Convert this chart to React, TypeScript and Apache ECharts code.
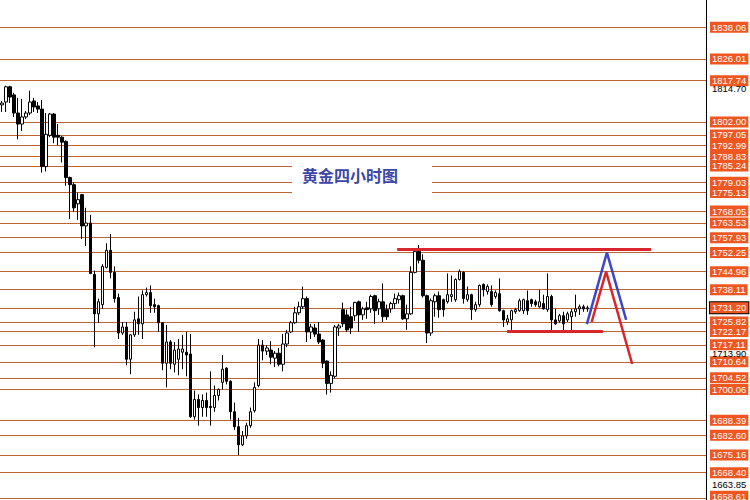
import React, { useEffect, useRef } from "react";
import * as echarts from "echarts";

// Gold, 4-hour bars: [open, close, low, high]
const candles: number[][] = [
  [1808.5, 1809.2, 1805.8, 1810.0],
  [1809.6, 1815.4, 1805.8, 1815.8],
  [1815.4, 1811.5, 1809.2, 1815.8],
  [1812.3, 1805.4, 1803.9, 1813.1],
  [1805.4, 1801.2, 1795.4, 1811.2],
  [1801.2, 1803.9, 1798.5, 1810.8],
  [1803.9, 1805.4, 1803.1, 1806.2],
  [1805.4, 1809.6, 1804.6, 1813.9],
  [1810.0, 1807.7, 1805.8, 1811.2],
  [1808.1, 1806.9, 1805.4, 1809.6],
  [1806.9, 1785.0, 1782.7, 1810.4],
  [1785.0, 1797.3, 1783.1, 1805.4],
  [1796.9, 1805.0, 1796.2, 1805.4],
  [1805.0, 1796.2, 1793.9, 1805.4],
  [1796.9, 1796.2, 1793.1, 1801.2],
  [1796.2, 1794.3, 1786.6, 1796.6],
  [1794.6, 1780.8, 1777.7, 1795.0],
  [1780.8, 1778.1, 1765.0, 1781.2],
  [1778.1, 1769.3, 1767.7, 1778.9],
  [1770.8, 1772.4, 1764.7, 1775.0],
  [1774.3, 1762.4, 1757.4, 1774.6],
  [1762.4, 1763.5, 1754.7, 1769.3],
  [1763.5, 1744.3, 1744.0, 1766.6],
  [1743.9, 1728.9, 1716.2, 1745.4],
  [1728.9, 1733.5, 1725.5, 1734.7],
  [1732.4, 1747.0, 1730.8, 1747.8],
  [1746.6, 1753.1, 1746.2, 1755.8],
  [1753.1, 1744.7, 1742.4, 1759.3],
  [1744.7, 1734.7, 1733.2, 1747.0],
  [1735.1, 1721.6, 1719.3, 1736.6],
  [1721.6, 1723.9, 1720.9, 1725.8],
  [1723.9, 1711.6, 1709.3, 1725.8],
  [1711.6, 1720.9, 1705.9, 1721.2],
  [1720.9, 1726.6, 1720.1, 1729.7],
  [1727.0, 1725.1, 1720.9, 1735.5],
  [1725.1, 1736.2, 1719.3, 1737.8],
  [1736.2, 1737.0, 1735.5, 1738.9],
  [1737.0, 1732.0, 1729.3, 1739.7],
  [1732.4, 1731.6, 1729.3, 1734.7],
  [1732.0, 1725.5, 1722.0, 1732.4],
  [1725.5, 1710.1, 1707.4, 1725.8],
  [1710.1, 1718.2, 1700.9, 1724.7],
  [1718.2, 1710.1, 1707.8, 1718.9],
  [1709.7, 1715.1, 1706.6, 1718.2],
  [1711.6, 1715.5, 1705.5, 1719.3],
  [1714.3, 1715.5, 1707.8, 1720.9],
  [1714.3, 1713.2, 1705.1, 1722.0],
  [1713.6, 1689.7, 1689.3, 1721.2],
  [1689.7, 1696.3, 1688.6, 1699.7],
  [1696.3, 1693.2, 1686.3, 1698.2],
  [1693.2, 1695.9, 1689.7, 1698.2],
  [1695.9, 1693.2, 1689.7, 1698.9],
  [1693.6, 1693.2, 1686.3, 1707.0],
  [1693.2, 1697.8, 1691.6, 1701.6],
  [1697.8, 1700.1, 1695.9, 1700.5],
  [1702.8, 1707.8, 1700.1, 1713.2],
  [1708.2, 1703.2, 1702.0, 1708.6],
  [1703.2, 1691.6, 1688.6, 1703.6],
  [1691.6, 1685.9, 1684.7, 1695.1],
  [1685.9, 1679.0, 1675.1, 1689.3],
  [1679.0, 1682.4, 1678.6, 1684.3],
  [1682.4, 1686.3, 1681.3, 1687.4],
  [1686.3, 1691.6, 1685.5, 1693.2],
  [1692.0, 1700.9, 1691.3, 1702.8],
  [1701.6, 1717.0, 1700.9, 1719.3],
  [1717.0, 1714.7, 1711.2, 1718.9],
  [1714.7, 1715.9, 1713.2, 1717.0],
  [1715.1, 1712.4, 1709.7, 1718.5],
  [1712.0, 1713.9, 1708.6, 1714.7],
  [1713.9, 1709.7, 1708.9, 1715.9],
  [1709.7, 1717.4, 1707.0, 1721.2],
  [1717.4, 1721.6, 1716.2, 1722.8],
  [1722.0, 1725.5, 1721.6, 1726.2],
  [1725.5, 1729.3, 1725.1, 1731.6],
  [1729.3, 1731.6, 1728.5, 1733.5],
  [1731.6, 1734.7, 1730.8, 1739.3],
  [1734.7, 1722.0, 1718.2, 1735.5],
  [1722.0, 1723.9, 1719.3, 1725.1],
  [1723.5, 1721.2, 1720.1, 1725.1],
  [1721.2, 1718.2, 1717.4, 1725.8],
  [1718.9, 1710.1, 1708.2, 1719.3],
  [1710.9, 1702.4, 1698.2, 1711.2],
  [1702.4, 1705.5, 1698.9, 1707.0],
  [1705.1, 1723.9, 1704.3, 1724.7],
  [1723.5, 1724.3, 1720.5, 1725.1],
  [1730.5, 1725.1, 1723.9, 1733.2],
  [1728.5, 1722.8, 1722.0, 1730.5],
  [1727.8, 1723.5, 1721.2, 1731.6],
  [1728.2, 1733.2, 1726.2, 1733.5],
  [1733.5, 1728.5, 1722.0, 1733.9],
  [1728.5, 1730.8, 1726.6, 1731.6],
  [1731.2, 1730.5, 1727.0, 1733.5],
  [1730.8, 1735.5, 1729.3, 1736.2],
  [1735.8, 1730.1, 1725.1, 1736.2],
  [1730.8, 1733.5, 1728.5, 1734.7],
  [1733.5, 1727.8, 1725.8, 1740.5],
  [1730.5, 1727.8, 1726.6, 1732.4],
  [1730.8, 1732.8, 1729.3, 1733.5],
  [1732.8, 1734.7, 1730.8, 1736.6],
  [1734.3, 1735.8, 1732.8, 1737.0],
  [1735.8, 1727.0, 1726.6, 1736.2],
  [1727.0, 1728.9, 1722.8, 1732.4],
  [1728.9, 1744.7, 1728.5, 1747.0],
  [1744.7, 1752.7, 1744.3, 1753.5],
  [1752.7, 1749.3, 1748.1, 1755.1],
  [1749.3, 1735.8, 1735.1, 1751.6],
  [1735.8, 1721.6, 1717.8, 1736.2],
  [1721.6, 1733.9, 1720.5, 1734.7],
  [1733.5, 1735.8, 1727.8, 1736.6],
  [1735.8, 1730.5, 1727.4, 1737.4],
  [1734.3, 1730.5, 1727.8, 1734.7],
  [1733.5, 1736.2, 1732.8, 1744.3],
  [1735.5, 1736.2, 1733.5, 1743.5],
  [1734.3, 1742.0, 1733.5, 1742.4],
  [1742.0, 1745.1, 1741.6, 1745.8],
  [1744.7, 1734.7, 1732.8, 1745.1],
  [1734.3, 1736.2, 1733.5, 1739.3],
  [1736.2, 1730.5, 1726.6, 1736.6],
  [1730.5, 1732.4, 1729.7, 1733.5],
  [1732.4, 1739.7, 1731.6, 1740.1],
  [1740.1, 1738.1, 1735.5, 1740.5],
  [1737.4, 1739.3, 1736.2, 1740.1],
  [1737.4, 1732.4, 1731.6, 1739.7],
  [1735.5, 1737.0, 1734.7, 1737.8],
  [1736.6, 1730.1, 1729.7, 1742.4],
  [1730.1, 1726.6, 1723.9, 1730.5],
  [1725.8, 1727.0, 1724.7, 1728.5],
  [1726.6, 1730.1, 1722.8, 1730.5],
  [1729.7, 1730.5, 1728.9, 1731.2],
  [1730.1, 1733.9, 1729.7, 1734.7],
  [1730.1, 1734.3, 1728.9, 1734.7],
  [1733.9, 1730.1, 1728.5, 1737.8],
  [1734.3, 1732.8, 1731.6, 1734.7],
  [1733.5, 1732.4, 1731.6, 1734.3],
  [1731.6, 1733.5, 1731.2, 1738.1],
  [1732.8, 1730.8, 1730.5, 1736.2],
  [1730.5, 1735.5, 1729.7, 1744.3],
  [1735.5, 1726.6, 1722.0, 1736.2],
  [1726.6, 1725.1, 1724.7, 1730.8],
  [1726.2, 1728.2, 1725.5, 1728.9],
  [1728.2, 1725.1, 1722.0, 1729.7],
  [1726.6, 1728.9, 1725.8, 1729.7],
  [1727.8, 1729.7, 1722.0, 1730.8],
  [1729.7, 1730.8, 1727.8, 1736.2],
  [1730.8, 1731.6, 1728.5, 1732.4],
  [1731.6, 1730.8, 1729.7, 1732.4],
  [1730.8, 1731.2, 1729.7, 1732.0],
];

// Horizontal price levels (orange tags on the price scale)
const levelValues = [
  1838.06, 1826.01, 1817.74, 1802.0, 1797.05, 1792.99, 1788.83, 1785.24,
  1779.03, 1775.13, 1768.05, 1763.53, 1757.93, 1752.25, 1744.96, 1738.11,
  1731.2, 1725.82, 1722.17, 1717.11, 1710.64, 1704.52, 1700.06, 1688.39,
  1682.6, 1675.16, 1668.4, 1658.61,
];
const lastPrice = 1731.2;
// Plain price-scale marks
const scaleMarks = [1814.7, 1713.9, 1663.85];

// Drawn studies, [bar position, price]
const resistance = [[98.5, 1753.4], [161.8, 1753.4]];
const support = [[125.9, 1722.17], [149.8, 1722.17]];
const bluePath = [[145.8, 1725.0], [150.8, 1752.25], [155.6, 1726.6]];
const redPath = [[147.0, 1725.8], [150.6, 1744.96], [157.1, 1709.8]];

const slotCount = 176;
const priceMin = 1657.98;
const priceMax = 1848.46;
const title = "黄金四小时图";

const LEVEL_LINE = "#bf6430";
const TAG_FILL = "#f0561f";

export default function App() {
  const ref = useRef<HTMLDivElement>(null);

  useEffect(() => {
    if (!ref.current) return;
    const chart = echarts.init(ref.current, undefined, { renderer: "svg" });
    const slots = Array.from({ length: slotCount }, (_, i) => String(i + 1));
    const fmt = (p: any) => Number(p.value).toFixed(2);
    const lowest = Math.min(...levelValues);

    const levelItems = levelValues.map((v) => ({
      yAxis: v,
      lineStyle: { color: LEVEL_LINE, width: 1.2, type: "solid" as const },
      label: {
        show: true,
        position: "end" as const,
        distance: 4,
        offset: v === lowest ? [0, -2] : [0, 0],
        formatter: fmt,
        color: "#ffffff",
        backgroundColor: TAG_FILL,
        borderColor: v === lastPrice ? "#000000" : TAG_FILL,
        borderWidth: v === lastPrice ? 1 : 0,
        padding: [1, 2, 0, 2],
        fontFamily: "Liberation Sans",
        fontSize: 9.5,
        lineHeight: 10,
      },
    }));
    const markItems = scaleMarks.map((v) => ({
      yAxis: v,
      lineStyle: { color: "rgba(0,0,0,0)", width: 0 },
      label: {
        show: true,
        position: "end" as const,
        distance: 6,
        formatter: fmt,
        color: "#000000",
        fontFamily: "Liberation Sans",
        fontSize: 9.5,
        lineHeight: 10,
      },
    }));

    const study = (data: number[][], color: string, width: number) => ({
      type: "line",
      xAxisIndex: 1,
      data,
      symbol: "none",
      silent: true,
      z: 5,
      lineStyle: { color, width },
    });

    chart.setOption({
      animation: false,
      backgroundColor: "#ffffff",
      grid: { left: 0, right: 44, top: 0, bottom: 0 },
      xAxis: [
        { type: "category", data: slots, boundaryGap: true, show: false },
        { type: "value", min: -0.5, max: slotCount - 0.5, show: false },
      ],
      yAxis: {
        type: "value",
        position: "right",
        min: priceMin,
        max: priceMax,
        axisLine: {
          show: true,
          onZero: false,
          lineStyle: { color: "#000000", width: 1 },
        },
        axisTick: { show: false },
        axisLabel: { show: false },
        splitLine: { show: false },
      },
      series: [
        {
          type: "candlestick",
          data: candles,
          barWidth: 3,
          z: 3,
          itemStyle: {
            color: "#ffffff",
            color0: "#000000",
            borderColor: "#000000",
            borderColor0: "#000000",
            borderWidth: 1,
          },
          markLine: {
            silent: true,
            symbol: ["none", "none"],
            z: 1,
            data: [...levelItems, ...markItems],
          },
        },
        study(resistance, "#d8262c", 3),
        study(support, "#d8262c", 3),
        study(bluePath, "#3b47c4", 2.5),
        study(redPath, "#d8262c", 2.5),
      ],
      graphic: [
        {
          type: "rect",
          z: 100,
          shape: { x: 292, y: 164, width: 140, height: 32 },
          style: { fill: "#ffffff" },
        },
        {
          type: "text",
          z: 101,
          x: 302,
          y: 175,
          style: {
            text: title,
            fill: "#3c46a8",
            fontSize: 16,
            fontWeight: "bold",
            fontFamily: "Noto Sans CJK SC",
            verticalAlign: "middle",
          },
        },
      ],
    });

    return () => chart.dispose();
  }, []);

  return (
    <div
      ref={ref}
      style={{ position: "fixed", left: 0, top: 0, width: 750, height: 500 }}
    />
  );
}
